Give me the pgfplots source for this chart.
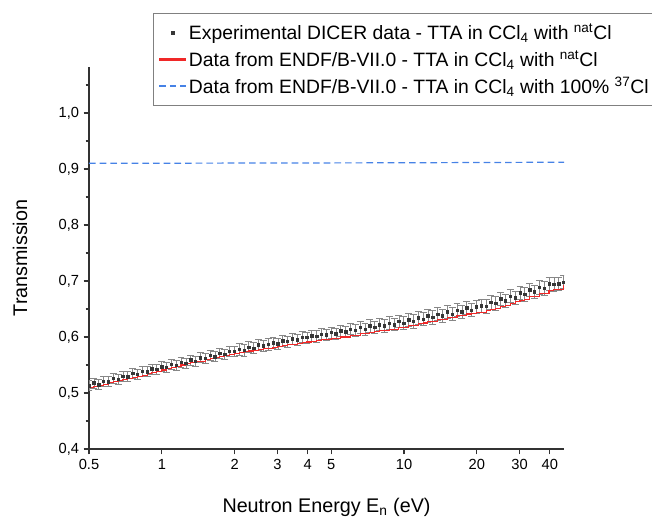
\documentclass[border=0pt]{standalone}
\usepackage{pgfplots}
\pgfplotsset{compat=1.18}
\usepackage{pgfplotstable}
\usepackage{fontspec}
\setmainfont{Liberation Sans}
\definecolor{expgray}{RGB}{55,55,55}
\definecolor{errgray}{RGB}{135,135,135}
\definecolor{endfred}{RGB}{240,40,40}
\definecolor{endfblue}{RGB}{70,130,230}
\definecolor{axgray}{RGB}{50,50,50}

\pgfplotstableread{
E T err R
0.500 0.513 0.009 0.509
0.5236 0.518 0.009 0.511
0.5483 0.515 0.009 0.513
0.5741 0.521 0.009 0.515
0.6012 0.520 0.009 0.518
0.6295 0.526 0.009 0.520
0.6592 0.524 0.009 0.522
0.6902 0.530 0.009 0.524
0.7228 0.529 0.009 0.526
0.7568 0.535 0.009 0.528
0.7924 0.533 0.009 0.530
0.8298 0.539 0.009 0.532
0.8690 0.538 0.009 0.535
0.9099 0.543 0.009 0.537
0.9528 0.542 0.009 0.539
0.9977 0.547 0.009 0.541
1.0447 0.546 0.009 0.544
1.0940 0.551 0.009 0.546
1.1455 0.550 0.009 0.548
1.1995 0.555 0.009 0.550
1.2561 0.553 0.009 0.552
1.3153 0.559 0.009 0.554
1.3773 0.557 0.009 0.556
1.4422 0.563 0.009 0.557
1.5102 0.562 0.009 0.559
1.5812 0.567 0.009 0.561
1.6558 0.565 0.009 0.563
1.7338 0.571 0.009 0.565
1.8156 0.569 0.009 0.567
1.9012 0.575 0.009 0.569
1.9907 0.574 0.009 0.571
2.0846 0.578 0.010 0.572
2.1829 0.576 0.010 0.574
2.2858 0.582 0.010 0.575
2.3935 0.580 0.010 0.576
2.5059 0.586 0.010 0.578
2.6241 0.584 0.010 0.579
2.7478 0.587 0.010 0.580
2.8773 0.590 0.010 0.582
3.0129 0.588 0.010 0.583
3.1548 0.593 0.010 0.584
3.3035 0.592 0.010 0.586
3.4593 0.597 0.010 0.587
3.6223 0.595 0.010 0.588
3.7931 0.600 0.010 0.590
3.9716 0.599 0.010 0.591
4.1588 0.602 0.010 0.592
4.3547 0.601 0.010 0.593
4.5600 0.605 0.010 0.595
4.7750 0.604 0.010 0.596
5.0000 0.608 0.010 0.597
5.2356 0.606 0.010 0.598
5.4824 0.611 0.010 0.600
5.7408 0.609 0.010 0.600
6.0113 0.614 0.010 0.603
6.2946 0.612 0.010 0.603
6.5913 0.617 0.011 0.606
6.9019 0.614 0.011 0.606
7.2272 0.620 0.011 0.608
7.5678 0.617 0.011 0.609
7.9245 0.622 0.011 0.611
8.2980 0.620 0.011 0.611
8.6890 0.625 0.011 0.614
9.0985 0.622 0.011 0.614
9.5273 0.628 0.011 0.617
9.9763 0.625 0.011 0.617
10.446 0.631 0.012 0.621
10.939 0.628 0.012 0.621
11.454 0.634 0.012 0.624
11.994 0.632 0.012 0.625
12.559 0.638 0.012 0.628
13.151 0.635 0.012 0.628
13.771 0.641 0.012 0.631
14.420 0.638 0.012 0.632
15.099 0.645 0.012 0.635
15.811 0.641 0.012 0.635
16.556 0.648 0.012 0.638
17.337 0.645 0.012 0.638
18.154 0.652 0.012 0.641
19.009 0.648 0.012 0.642
19.905 0.654 0.012 0.644
20.843 0.656 0.012 0.644
21.826 0.655 0.012 0.647
22.854 0.662 0.012 0.649
23.931 0.660 0.012 0.651
25.059 0.668 0.012 0.655
26.240 0.665 0.012 0.657
27.477 0.673 0.012 0.659
28.772 0.670 0.012 0.663
30.128 0.679 0.012 0.665
31.548 0.676 0.012 0.667
33.034 0.684 0.012 0.672
34.591 0.681 0.012 0.672
36.221 0.689 0.012 0.677
37.928 0.687 0.012 0.678
39.716 0.695 0.012 0.683
41.588 0.694 0.012 0.684
43.547 0.695 0.012 0.685
45.600 0.698 0.012 0.692
}\expdata

\begin{document}
\begin{tikzpicture}
\useasboundingbox (-66.75pt,-51pt) rectangle (422.25pt,336.75pt);
\begin{axis}[
  scale only axis,
  width=356.25pt, height=286.5pt,
  xmode=log,
  xmin=0.5, xmax=45.8,
  ymin=0.4, ymax=1.082,
  axis x line*=bottom, axis y line*=left,
  axis line style={axgray, line width=1pt},
  xtick={0.5,1,2,3,4,5,10,20,30,40},
  xticklabels={0.5,1,2,3,4,5,10,20,30,40},
  xminorticks=false,
  ytick={0.4,0.5,0.6,0.7,0.8,0.9,1.0},
  minor ytick={0.45,0.55,0.65,0.75,0.85,0.95,1.05},
  yticklabel style={/pgf/number format/.cd, fixed, fixed zerofill, precision=1, use comma},
  /pgf/number format/assume math mode=true,
  tick align=outside,
  major tick length=4pt, minor tick length=2.5pt,
  tick style={axgray, line width=0.9pt},
  ticklabel style={font=\fontsize{11}{13}\selectfont, text=black},
  xlabel={Neutron Energy E\textsubscript{n} (eV)},
  ylabel={Transmission},
  xlabel style={at={(axis description cs:0.5,-0.152)}, anchor=center, font=\fontsize{14.8}{17}\selectfont},
  ylabel style={at={(axis description cs:-0.145,0.5)}, anchor=center, font=\fontsize{14.8}{17}\selectfont},
  legend style={at={(1.196,1.1414)}, anchor=north east, draw=gray, line width=0.6pt,
    font=\fontsize{14.5}{17}\selectfont, row sep=2.5pt, cells={anchor=west},
    inner xsep=4pt, inner ysep=6pt},
  legend cell align=left,
]
\addplot[only marks, mark=square*, mark size=0.9pt, color=expgray,
  legend image code/.code={\fill[expgray] (0.35cm-1.1pt,-1.1pt) rectangle (0.35cm+1.1pt,1.1pt);},
  error bars/.cd, y dir=both, y explicit,
  error bar style={errgray, line width=0.5pt},
  error mark options={rotate=90, mark size=2.6pt, errgray, line width=0.5pt}]
  table[x=E, y=T, y error=err] {\expdata};
\addlegendentry{Experimental DICER data - TTA in CCl\textsubscript{4} with \textsuperscript{nat}Cl}
\addplot[const plot, endfred, line width=0.8pt, mark=none,
  legend image code/.code={\fill[endfred] (0cm,-0.55pt) rectangle (0.7cm,0.55pt);}]
  table[x=E, y=R] {\expdata};
\addlegendentry{Data from ENDF/B-VII.0 - TTA in CCl\textsubscript{4} with \textsuperscript{nat}Cl}
\addplot[endfblue, line width=0.9pt, dash pattern=on 5pt off 3pt, mark=none,
  legend image code/.code={\draw[endfblue, line width=0.9pt, dash pattern=on 5pt off 3pt] (0cm,0cm) -- (0.7cm,0cm);}]
  coordinates {(0.5,0.910) (10,0.911) (45.8,0.912)};
\addlegendentry{Data from ENDF/B-VII.0 - TTA in CCl\textsubscript{4} with 100\% \textsuperscript{37}Cl}
\end{axis}
\end{tikzpicture}
\end{document}
